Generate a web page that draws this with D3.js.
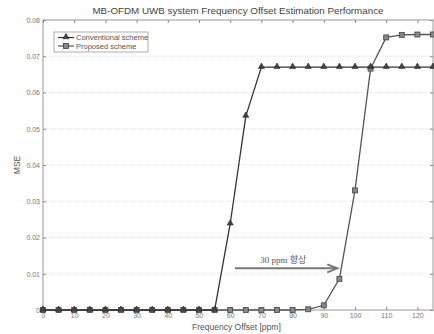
<!DOCTYPE html>
<html>
<head>
<meta charset="utf-8">
<script src="https://cdn.jsdelivr.net/npm/d3@7"></script>
<style>
  body { margin: 0; background: #fff; }
  svg { font-family: "Liberation Sans", Arial, sans-serif; }
</style>
</head>
<body>
<div class="chart"></div>
<script>
// data
var offsets = [0, 5, 10, 15, 20, 25, 30, 35, 40, 45, 50, 55, 60, 65, 70, 75, 80, 85, 90, 95, 100, 105, 110, 115, 120, 125];
var conventional = [0, 0, 0, 0, 0, 0, 0, 0, 0, 0, 0, 0, 0.0238, 0.0535, 0.067, 0.067, 0.067, 0.067, 0.067, 0.067, 0.067, 0.067, 0.067, 0.067, 0.067, 0.067];
var proposed = [0, 0, 0, 0, 0, 0, 0, 0, 0, 0, 0, 0, 0, 0, 0, 0, 0, 0.0002, 0.0013, 0.0086, 0.033, 0.0666, 0.0752, 0.0759, 0.076, 0.076];
var xTicks = [0, 10, 20, 30, 40, 50, 60, 70, 80, 90, 100, 110, 120];
var yTicks = [0, 0.01, 0.02, 0.03, 0.04, 0.05, 0.06, 0.07, 0.08];

var svgWidth = 434, svgHeight = 334;
var margin = { top: 20, right: 1, bottom: 24, left: 43 };
var width = svgWidth - margin.left - margin.right;
var height = svgHeight - margin.top - margin.bottom;

var svg = d3.select(".chart")
  .append("svg")
  .attr("width", svgWidth)
  .attr("height", svgHeight);

var g = svg.append("g")
  .attr("transform", `translate(${margin.left}, ${margin.top})`);

var x = d3.scaleLinear().domain([0, 125]).range([0, width]);
var y = d3.scaleLinear().domain([0, 0.08]).range([height, 0]);

// horizontal grid
g.append("g")
  .selectAll("line")
  .data(yTicks.slice(1, -1))
  .enter().append("line")
  .attr("x1", 0).attr("x2", width)
  .attr("y1", function(d) { return y(d); })
  .attr("y2", function(d) { return y(d); })
  .attr("stroke", "#e4e4e4")
  .attr("stroke-width", 1)
  .attr("stroke-dasharray", "1,1");

// box frame
g.append("rect")
  .attr("width", width).attr("height", height)
  .attr("fill", "none").attr("stroke", "#999").attr("stroke-width", 1);

// axes
var xAxis = g.append("g")
  .attr("transform", "translate(0," + height + ")")
  .call(d3.axisBottom(x).tickValues(xTicks).tickSize(-3).tickPadding(3));
var xTop = g.append("g")
  .call(d3.axisTop(x).tickValues(xTicks).tickSize(-3).tickFormat(""));
var yAxis = g.append("g")
  .call(d3.axisLeft(y).tickValues(yTicks).tickSize(-3).tickPadding(3)
    .tickFormat(function(d) { return d === 0 ? "0" : d3.format(".2f")(d); }));
var yRight = g.append("g")
  .attr("transform", "translate(" + width + ",0)")
  .call(d3.axisRight(y).tickValues(yTicks).tickSize(-3).tickFormat(""));

[xAxis, xTop, yAxis, yRight].forEach(function(a) {
  a.select(".domain").remove();
  a.selectAll("line").attr("stroke", "#888");
  a.selectAll("text").attr("fill", "#777").style("font-size", "7px");
});

// lines
var lineConv = d3.line()
  .x(function(d, i) { return x(offsets[i]); })
  .y(function(d) { return y(d); });

g.append("path")
  .datum(proposed)
  .attr("d", lineConv)
  .attr("fill", "none").attr("stroke", "#555").attr("stroke-width", 1.3);

g.append("path")
  .datum(conventional)
  .attr("d", lineConv)
  .attr("fill", "none").attr("stroke", "#333").attr("stroke-width", 1.3);

// markers
var tri = d3.symbol().type(d3.symbolTriangle).size(16);
g.append("g")
  .selectAll("path")
  .data(proposed)
  .enter().append("rect")
  .attr("x", function(d, i) { return x(offsets[i]) - 2.5; })
  .attr("y", function(d) { return y(d) - 2.5; })
  .attr("width", 5).attr("height", 5)
  .attr("fill", "#888").attr("stroke", "#444").attr("stroke-width", 0.8);

g.append("g")
  .selectAll("path")
  .data(conventional)
  .enter().append("path")
  .attr("d", tri)
  .attr("transform", function(d, i) { return "translate(" + x(offsets[i]) + "," + (y(d) - 0.5) + ")"; })
  .attr("fill", "#444").attr("stroke", "#222").attr("stroke-width", 0.6);

// annotation arrow
var arrowY = y(0.0115);
g.append("line")
  .attr("x1", x(61.5)).attr("x2", x(94))
  .attr("y1", arrowY).attr("y2", arrowY)
  .attr("stroke", "#777").attr("stroke-width", 2);
g.append("path")
  .attr("d", "M" + (x(94) - 9) + "," + (arrowY - 4) + " L" + (x(94) + 1) + "," + arrowY + " L" + (x(94) - 9) + "," + (arrowY + 4))
  .attr("fill", "none").attr("stroke", "#777").attr("stroke-width", 2);
g.append("text")
  .attr("x", x(77)).attr("y", arrowY - 5)
  .attr("text-anchor", "middle")
  .style("font-family", "'Liberation Serif', 'Noto Sans CJK KR', serif")
  .style("font-size", "9px")
  .attr("fill", "#555")
  .text("30 ppm 향상");

// legend
var legend = g.append("g").attr("transform", "translate(11,12)");
legend.append("rect")
  .attr("width", 94).attr("height", 20)
  .attr("fill", "#fff").attr("stroke", "#999").attr("stroke-width", 0.8);
var items = [
  { name: "Conventional scheme", type: "tri" },
  { name: "Proposed scheme", type: "sq" }
];
items.forEach(function(it, i) {
  var yy = 5.5 + i * 8.5;
  legend.append("line")
    .attr("x1", 4).attr("x2", 20).attr("y1", yy).attr("y2", yy)
    .attr("stroke", it.type === "tri" ? "#333" : "#555").attr("stroke-width", 1.2);
  if (it.type === "tri") {
    legend.append("path").attr("d", tri)
      .attr("transform", "translate(12," + (yy - 0.5) + ")")
      .attr("fill", "#444").attr("stroke", "#222").attr("stroke-width", 0.6);
  } else {
    legend.append("rect").attr("x", 9.5).attr("y", yy - 2.5).attr("width", 5).attr("height", 5)
      .attr("fill", "#888").attr("stroke", "#444").attr("stroke-width", 0.8);
  }
  legend.append("text")
    .attr("x", 22).attr("y", yy + 2.5)
    .style("font-size", "7.5px").attr("fill", "#555")
    .text(it.name);
});

// title and labels
svg.append("text")
  .attr("x", 238).attr("y", 14)
  .attr("text-anchor", "middle")
  .style("font-size", "9.8px").attr("fill", "#444")
  .text("MB-OFDM UWB system Frequency Offset Estimation Performance");

svg.append("text")
  .attr("x", margin.left + x(62)).attr("y", 330)
  .attr("text-anchor", "middle")
  .style("font-size", "8.5px").attr("fill", "#555")
  .text("Frequency Offset [ppm]");

svg.append("text")
  .attr("transform", "translate(20," + (margin.top + y(0.04)) + ") rotate(-90)")
  .attr("text-anchor", "middle")
  .style("font-size", "8.5px").attr("fill", "#555")
  .text("MSE");
</script>
</body>
</html>
